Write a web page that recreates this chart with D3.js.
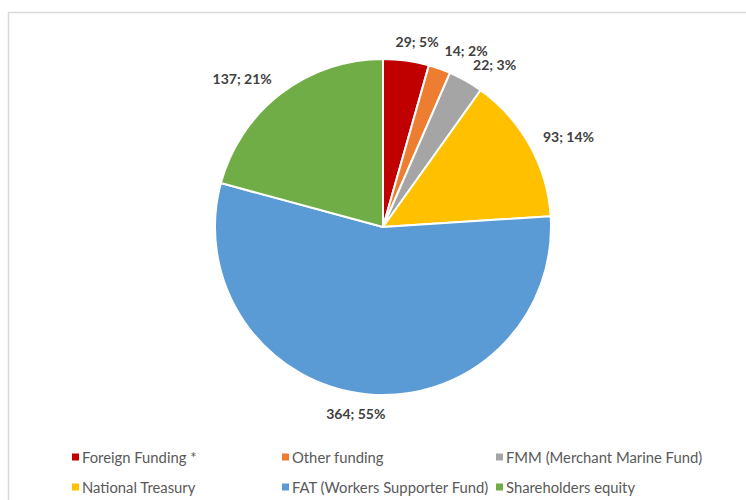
<!DOCTYPE html>
<html>
<head>
<meta charset="utf-8">
<script src="https://cdn.jsdelivr.net/npm/d3@7"></script>
<style>
  body { margin: 0; background: #fff; }
  svg { display: block; font-family: Lato, "Open Sans", sans-serif; }
</style>
</head>
<body>
<script>

// values, clockwise from 12 o'clock
var categories = ["Foreign Funding *", "Other funding", "FMM (Merchant Marine Fund)",
                  "National Treasury", "FAT (Workers Supporter Fund)", "Shareholders equity"];
var values = [29, 14, 22, 93, 364, 137];
var percentLabels = ["5%", "2%", "3%", "14%", "55%", "21%"];
var colors = ["#C00000", "#ED7D31", "#A5A5A5", "#FFC000", "#5B9BD5", "#70AD47"];

var width = 746,
    height = 500;

var cx = 383, cy = 227, radius = 168;

var svg = d3.select("body").append("svg")
    .attr("width", width)
    .attr("height", height);

// chart area frame (only the left and top edges show)
svg.append("rect")
    .attr("x", 8.5)
    .attr("y", 12.5)
    .attr("width", 900)
    .attr("height", 700)
    .attr("fill", "none")
    .attr("stroke", "#d9d9d9")
    .attr("stroke-width", 1.5);

var data = categories.map(function(c, i) {
    return {name: c, value: values[i], pct: percentLabels[i], color: colors[i]};
});

var pie = d3.pie()
    .sort(null)
    .value(function(d) { return d.value; });

var arc = d3.arc()
    .innerRadius(0)
    .outerRadius(radius);

var arcs = pie(data);

var g = svg.append("g")
    .attr("transform", "translate(" + cx + "," + cy + ")");

g.selectAll("path")
    .data(arcs)
    .enter()
    .append("path")
    .attr("d", arc)
    .attr("fill", function(d) { return d.data.color; })
    .attr("stroke", "#fff")
    .attr("stroke-width", 2)
    .attr("stroke-linejoin", "round");

// data labels outside the slices
var labelRadius = radius + 15;

var labels = g.selectAll(".label")
    .data(arcs)
    .enter()
    .append("text")
    .attr("class", "label")
    .attr("text-anchor", "middle")
    .attr("dominant-baseline", "central")
    .attr("font-size", "14px")
    .attr("font-weight", "bold")
    .attr("fill", "#404040")
    .text(function(d) { return d.data.value + "; " + d.data.pct; });

labels.each(function(d) {
    var a = (d.startAngle + d.endAngle) / 2;
    var w = this.getComputedTextLength();
    var s = Math.sin(a), c = Math.cos(a);
    // push the label sideways so its edge sits outside the pie, like excel's best fit
    var shift = Math.sign(s) * (w / 2) * Math.min(1, Math.abs(s) * 3);
    var x = labelRadius * s + shift;
    var y = -labelRadius * c - c * 4;
    d3.select(this).attr("x", x).attr("y", y);
});

// legend
var legendCols = [72, 282, 496];
var legendRows = [457, 487];

var legend = svg.selectAll(".legend")
    .data(data)
    .enter()
    .append("g")
    .attr("class", "legend")
    .attr("transform", function(d, i) {
        return "translate(" + legendCols[i % 3] + "," + legendRows[Math.floor(i / 3)] + ")";
    });

legend.append("rect")
    .attr("x", 0)
    .attr("y", -3.5)
    .attr("width", 7)
    .attr("height", 7)
    .attr("fill", function(d) { return d.color; });

legend.append("text")
    .attr("x", 10)
    .attr("y", 0)
    .attr("dominant-baseline", "central")
    .attr("font-size", "14.8px")
    .attr("fill", "#595959")
    .text(function(d) { return d.name; });

</script>
</body>
</html>
